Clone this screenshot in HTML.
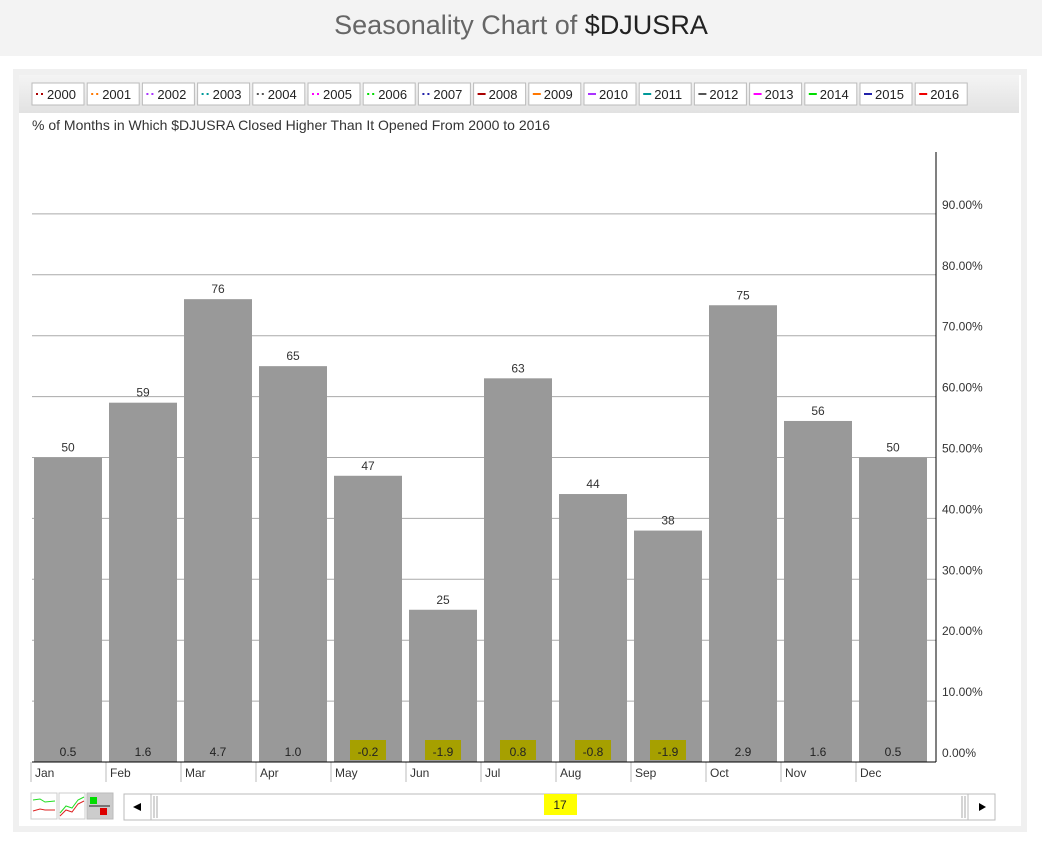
<!DOCTYPE html>
<html><head><meta charset="utf-8"><style>
body{margin:0;width:1042px;height:844px;background:#fff;font-family:"Liberation Sans",sans-serif;position:relative;overflow:hidden}
#title{position:absolute;left:0;top:0;width:1042px;height:56px;background:#f3f3f3;text-align:center;line-height:50px;font-size:27px;color:#666;font-weight:300}
#title b{font-weight:normal;color:#222}
#panel{position:absolute;left:13px;top:69px;width:1002px;height:751px;background:#fff;border:6px solid #f0f0f0}
svg text{font-family:"Liberation Sans",sans-serif}
</style></head><body>
<div id="title">Seasonality Chart of <b>$DJUSRA</b></div>
<div id="panel"></div>
<svg id="chart" width="1042" height="844" style="position:absolute;left:0;top:0">
<defs><linearGradient id="lg" x1="0" y1="0" x2="0" y2="1"><stop offset="0" stop-color="#f4f4f4"/><stop offset="1" stop-color="#e2e2e2"/></linearGradient></defs>
<rect x="19" y="75" width="1000" height="38" fill="url(#lg)"/>
<g id="legend"></g>
<text x="32" y="130" font-size="14" fill="#333">% of Months in Which $DJUSRA Closed Higher Than It Opened From 2000 to 2016</text>
<g id="grid"></g><g id="bars"></g>
<line x1="936" y1="152" x2="936" y2="762" stroke="#000"/>
<line x1="32" y1="762" x2="936" y2="762" stroke="#000"/>
<g>
<rect x="31" y="793" width="26" height="26" fill="#fff" stroke="#ccc"/>
<polyline points="33,800 40,799 45,802 55,801" stroke="#2d2" fill="none"/>
<polyline points="33,811 40,809 45,810 55,810" stroke="#d22" fill="none"/>
<rect x="59" y="793" width="26" height="26" fill="#fff" stroke="#ccc"/>
<polyline points="60,813 66,806 72,808 78,800 84,797" stroke="#2d2" fill="none"/>
<polyline points="60,816 66,810 72,812 78,804 84,801" stroke="#d22" fill="none"/>
<rect x="87" y="793" width="26" height="26" fill="#ccc" stroke="#bbb"/>
<rect x="90" y="797" width="7" height="7" fill="#0d0"/><line x1="89" y1="806" x2="110" y2="806" stroke="#222"/><rect x="100" y="808" width="7" height="7" fill="#d00"/>
</g>
<g>
<rect x="124" y="794" width="871" height="26" fill="#fff" stroke="#bbb"/>
<rect x="124" y="794" width="27" height="26" fill="#fff" stroke="#bbb"/>
<polygon points="133,807 141,803 141,811" fill="#000"/>
<line x1="154" y1="796" x2="154" y2="818" stroke="#aaa"/><line x1="157" y1="796" x2="157" y2="818" stroke="#aaa"/>
<line x1="962" y1="796" x2="962" y2="818" stroke="#aaa"/><line x1="965" y1="796" x2="965" y2="818" stroke="#aaa"/>
<rect x="968" y="794" width="27" height="26" fill="#fff" stroke="#bbb"/>
<polygon points="986,807 979,803 979,811" fill="#000"/>
<rect x="544" y="794" width="33" height="21" fill="#ffff00"/>
<text x="560" y="809" font-size="12" text-anchor="middle" fill="#222">17</text>
</g>
</svg>
<script>
const months=["Jan","Feb","Mar","Apr","May","Jun","Jul","Aug","Sep","Oct","Nov","Dec"];
const pctUp=[50,59,76,65,47,25,63,44,38,75,56,50];
const avgChange=["0.5","1.6","4.7","1.0","-0.2","-1.9","0.8","-0.8","-1.9","2.9","1.6","0.5"];
const highlighted=[false,false,false,false,true,true,true,true,true,false,false,false];
const yTicks=[0,10,20,30,40,50,60,70,80,90];
const years=["2000","2001","2002","2003","2004","2005","2006","2007","2008","2009","2010","2011","2012","2013","2014","2015","2016"];
const yearColors=["#a00","#f70","#a3f","#099","#555","#f0f","#0d0","#22a","#a00","#f70","#a3f","#099","#555","#f0f","#0d0","#22a","#e00"];
const NS="http://www.w3.org/2000/svg";
const y=v=>762-v*6.09, slot=75, x0=32;
function mk(t,a,p){const e=document.createElementNS(NS,t);for(const k in a)e.setAttribute(k,a[k]);p.appendChild(e);return e;}
const G=document.getElementById('grid'),B=document.getElementById('bars'),L=document.getElementById('legend');
yTicks.forEach(t=>{
 if(t>0){const l=mk('line',{x1:32,x2:936,y1:y(t),y2:y(t),stroke:'#aaa'},G);
 
 }
 const tx=mk('text',{x:942,y:y(t)-5,'font-size':12,fill:'#333'},G);tx.textContent=t.toFixed(2)+'%';
 
 
});
months.forEach((m,i)=>{
 const bx=x0+i*slot+2,v=pctUp[i];
 const r=mk('rect',{x:bx,y:y(v),width:68,height:762-y(v),fill:'#999'},B);
 
 
 const vt=mk('text',{x:bx+34,y:y(v)-6,'font-size':12,'text-anchor':'middle',fill:'#333'},B);vt.textContent=v;
 
 
 if(highlighted[i])mk('rect',{x:bx+16,y:740,width:36,height:20,fill:'#a6a000'},B);
 const at=mk('text',{x:bx+34,y:756,'font-size':12,'text-anchor':'middle',fill:'#222'},B);at.textContent=avgChange[i];
 
 
 mk('line',{x1:x0+i*slot-1,x2:x0+i*slot-1,y1:762,y2:782,stroke:'#bbb'},B);
 const mt=mk('text',{x:x0+i*slot+3,y:777,'font-size':12,fill:'#333'},B);mt.textContent=m;
 
 
});
years.forEach((yr,i)=>{
 const lx=32+i*55.2;
 const g=mk('g',{},L);
 
 
 mk('rect',{x:lx,y:83,width:52,height:22,fill:'#fff',stroke:'#bbb'},g);
 if(i<8){mk('rect',{x:lx+4,y:93,width:2,height:2,fill:yearColors[i]},g);mk('rect',{x:lx+9,y:93,width:2,height:2,fill:yearColors[i]},g);}
 else mk('rect',{x:lx+4,y:93,width:8,height:2,fill:yearColors[i]},g);
 const t=mk('text',{x:lx+15,y:99,'font-size':13,fill:'#222'},g);t.textContent=yr;
});
</script>
</body></html>
